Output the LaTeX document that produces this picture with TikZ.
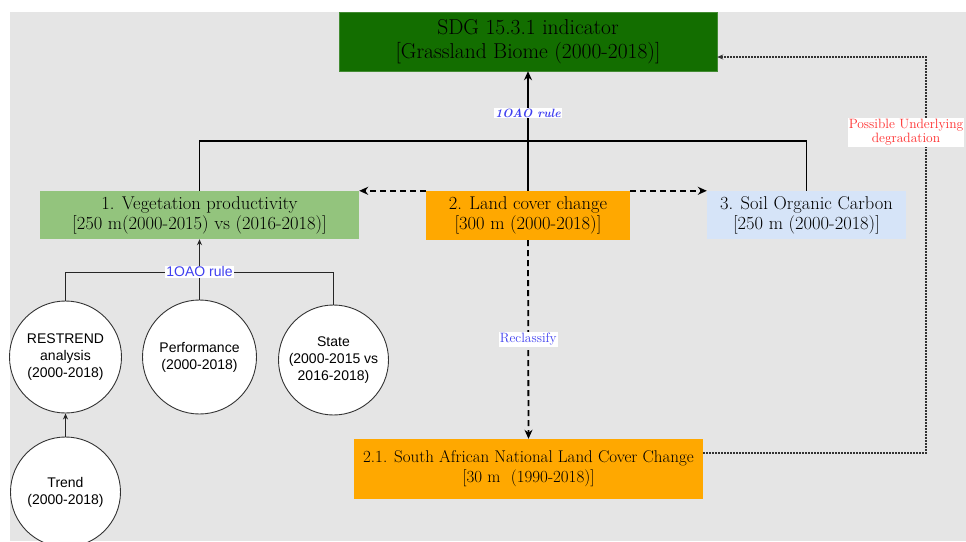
\documentclass[tikz,border=0pt]{standalone}
\usepackage{fontspec}
\newfontfamily\arialfont{Liberation Sans}
\usetikzlibrary{arrows.meta}
\definecolor{bggray}{RGB}{229,229,229}
\definecolor{sdggreen}{RGB}{19,110,0}
\definecolor{veggreen}{RGB}{147,196,125}
\definecolor{lcorange}{RGB}{255,168,0}
\definecolor{soilblue}{RGB}{214,228,248}
\definecolor{labblue}{RGB}{64,64,240}
\definecolor{labred}{RGB}{255,45,45}
\tikzset{
  boxnode/.style={rectangle, inner sep=0pt, align=center, text=black},
  circnode/.style={circle, draw=black!80, line width=0.9pt, fill=white, inner sep=0pt, align=center, font=\arialfont\fontsize{14}{17}\selectfont},
  mainline/.style={line width=1.8pt, black},
  thinline/.style={line width=0.9pt, black!85},
  dashline/.style={line width=1.8pt, black, dash pattern=on 6pt off 4pt},
  dotline/.style={line width=1.8pt, black!80, dash pattern=on 1.5pt off 1.5pt},
  bigtip/.style={-{Stealth[length=9pt,width=8pt]}},
  smalltip/.style={-{Stealth[length=6pt,width=5pt]}},
  edgelab/.style={fill=white, inner sep=1pt}
}
\begin{document}
\begin{tikzpicture}[x=1pt,y=-1pt]
\useasboundingbox (0,0) rectangle (966,541);
\fill[white] (0,0) rectangle (966,541);
\fill[bggray] (10,11.5) rectangle (966,541);

% main boxes
\node[boxnode, fill=sdggreen, draw=sdggreen!80!white, minimum width=378pt, minimum height=59pt,
      font=\fontsize{21.5}{24}\selectfont] (sdg) at (528,41.5)
      {SDG 15.3.1 indicator\\{}[Grassland Biome (2000-2018)]};
\node[boxnode, fill=veggreen, minimum width=319pt, minimum height=48pt,
      font=\fontsize{18.5}{20}\selectfont] (veg) at (199.5,215)
      {1. Vegetation productivity\\{}[250 m(2000-2015) vs (2016-2018)]};
\node[boxnode, fill=lcorange, minimum width=204pt, minimum height=49pt,
      font=\fontsize{18.5}{20}\selectfont] (lcc) at (528,215.5)
      {2. Land cover change\\{}[300 m (2000-2018)]};
\node[boxnode, fill=soilblue, minimum width=199pt, minimum height=48pt,
      font=\fontsize{18.5}{20}\selectfont] (soil) at (806.5,215)
      {3. Soil Organic Carbon\\{}[250 m (2000-2018)]};
\node[boxnode, fill=lcorange, minimum width=349pt, minimum height=60pt,
      font=\fontsize{17}{20}\selectfont] (sa) at (528.5,469)
      {2.1. South African National Land Cover Change\\{}[30 m\ \ (1990-2018)]};

% circles
\node[circnode, minimum size=112pt] (restrend) at (65.5,357) {RESTREND\\analysis\\(2000-2018)};
\node[circnode, minimum size=114pt] (perf) at (199.5,357) {Performance\\(2000-2018)};
\node[circnode, minimum size=110pt] (state) at (333.5,360) {State\\(2000-2015 vs\\2016-2018)};
\node[circnode, minimum size=110pt] (trend) at (65.5,492) {Trend\\(2000-2018)};

% helper coordinates
\coordinate (bar) at (528,141);
\coordinate (bar2) at (199.5,272);
\coordinate (c1) at (926,453);
\coordinate (c2) at (926,57);

% top tree
\draw[mainline] (veg.north) -- (veg.north |- bar) -- (soil.north |- bar) -- (soil.north);
\draw[mainline, bigtip] (lcc.north) -- node[pos=0.65, edgelab, text=labblue,
      font=\bfseries\itshape\fontsize{12}{13}\selectfont] {1OAO rule} (sdg.south);

% dashed side arrows
\draw[dashline, bigtip] (lcc.north west) -- (veg.north east);
\draw[dashline, bigtip] (lcc.north east) -- (soil.north west);

% reclassify
\draw[dashline, bigtip] (lcc.south) -- node[pos=0.5, edgelab, text=labblue,
      font=\fontsize{13.5}{15}\selectfont] {Reclassify} (sa.north);

% dotted feedback
\draw[dotline, smalltip] (sa.east |- c1) -- (c1) -- node[pos=0.81, edgelab, text=labred, align=center,
      font=\fontsize{13.5}{14.5}\selectfont, xshift=-20pt] {Possible Underlying\\degradation} (c2) -- (sdg.east |- c2);

% circle connectors
\draw[thinline] (restrend.north) -- (restrend.north |- bar2) -- (state.north |- bar2) -- (state.north);
\draw[thinline, smalltip] (perf.north) -- node[pos=0.46, edgelab, text=labblue,
      font=\arialfont\fontsize{14}{16}\selectfont] {1OAO rule} (veg.south);
\draw[thinline, smalltip] (trend.north) -- (restrend.south);
\end{tikzpicture}
\end{document}
